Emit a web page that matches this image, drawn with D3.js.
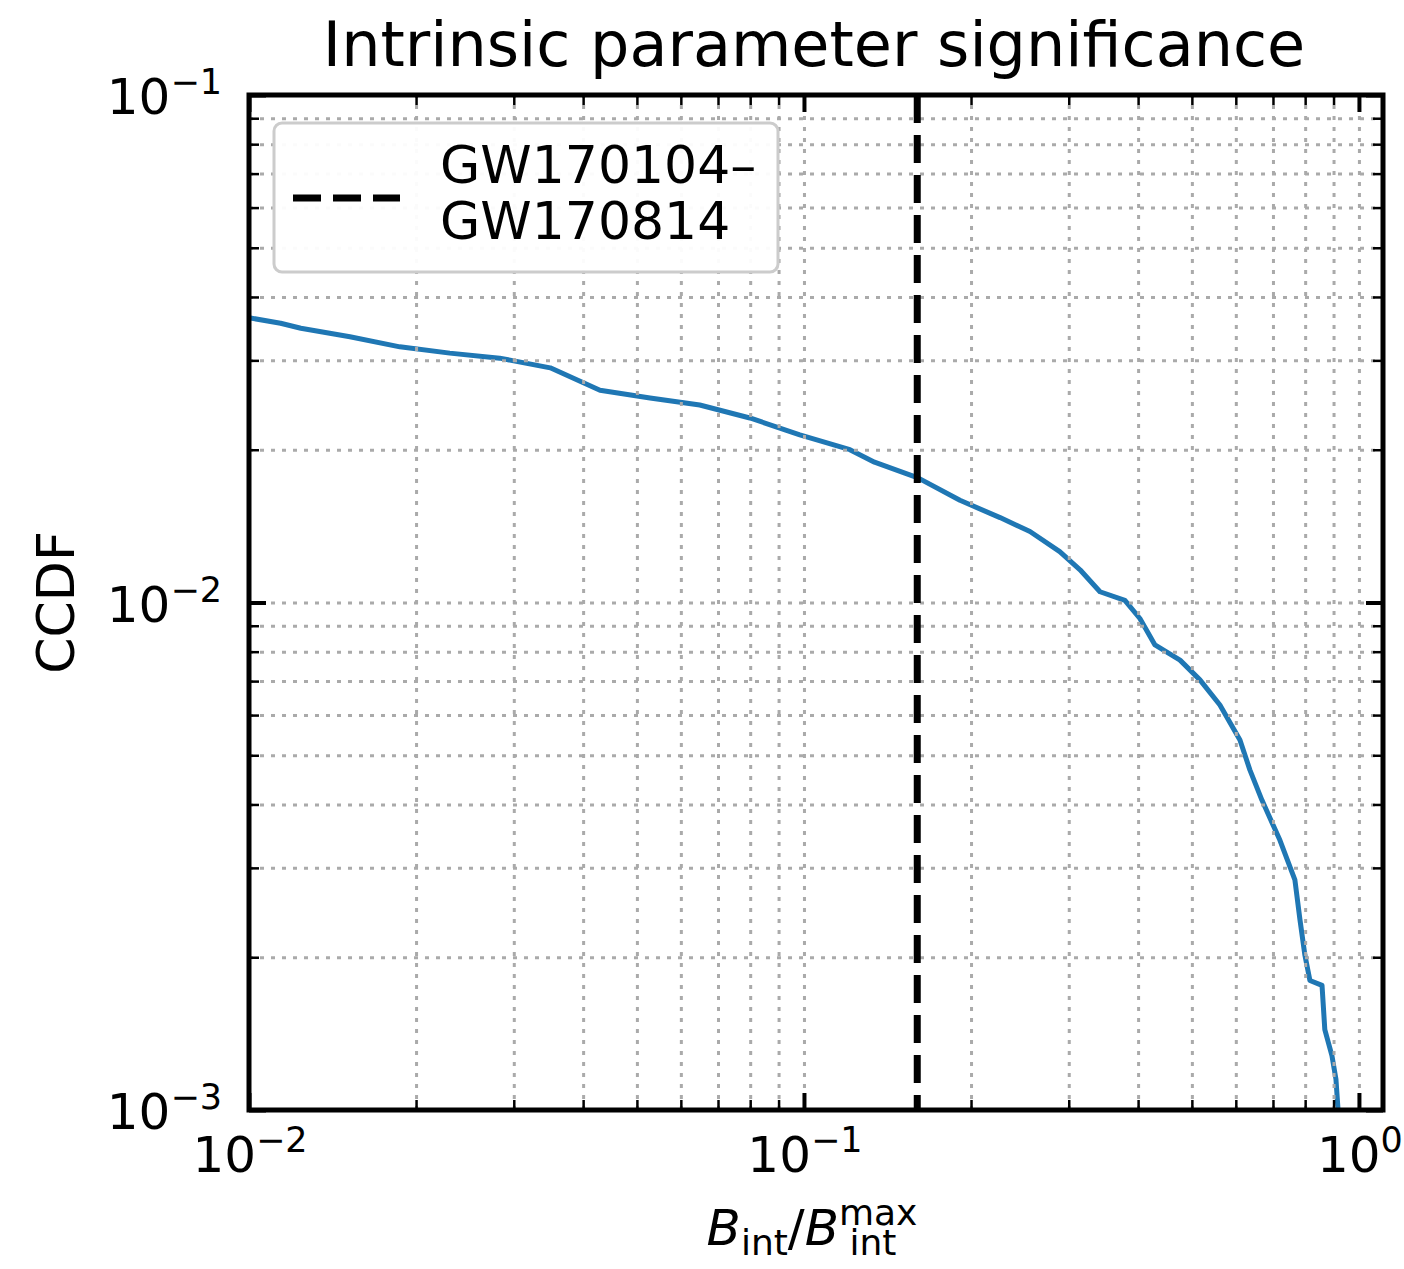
<!DOCTYPE html>
<html>
<head>
<meta charset="utf-8">
<script src="https://cdn.jsdelivr.net/npm/d3@7"></script>
<style>
  html, body { margin: 0; padding: 0; background: #fff; overflow: hidden; }
  svg { display: block; }
  text { font-family: "DejaVu Sans", sans-serif; fill: #000; }
</style>
</head>
<body>
<div id="chart"></div>
<script>
"use strict";

// CCDF of B_int / B_int^max
var ccdfX = [0.0100, 0.0114, 0.0124, 0.0152, 0.0187, 0.0230, 0.0283, 0.0349, 0.0429, 0.0528,
             0.0649, 0.0799, 0.0983, 0.121, 0.134, 0.1605, 0.191, 0.2256, 0.2554, 0.289,
             0.3144, 0.3415, 0.3787, 0.403, 0.429, 0.476, 0.517, 0.5617, 0.6104, 0.636,
             0.6686, 0.7206, 0.7667, 0.783, 0.7991, 0.816, 0.858, 0.868, 0.894, 0.909, 0.917];
var ccdfY = [0.0364, 0.0355, 0.0347, 0.0334, 0.0319, 0.0310, 0.0303, 0.0290, 0.0262, 0.0253,
             0.0245, 0.0231, 0.0214, 0.0200, 0.0189, 0.0176, 0.0159, 0.0147, 0.0138, 0.0126,
             0.0116, 0.0105, 0.0101, 0.0093, 0.00825, 0.0077, 0.00704, 0.00628, 0.00536, 0.00468,
             0.00408, 0.0034, 0.00284, 0.00237, 0.00202, 0.0018, 0.00176, 0.00144, 0.00128, 0.00115, 0.0010];

var eventX = 0.16;                       // GW170104-GW170814 pair
var legendLines = ['GW170104\u2013', 'GW170814'];

var xDomain = [0.01, 1.105];
var yDomain = [0.001, 0.1];
var xMajor = [0.01, 0.1, 1], xMajorExp = ['\u22122', '\u22121', '0'];
var yMajor = [0.1, 0.01, 0.001], yMajorExp = ['\u22121', '\u22122', '\u22123'];

var outerWidth = 1404, outerHeight = 1269;
var margin = { left: 249, top: 95, right: 21, bottom: 159 };
var innerWidth  = outerWidth  - margin.left - margin.right;
var innerHeight = outerHeight - margin.top  - margin.bottom;

var x = d3.scaleLog().domain(xDomain).range([0, innerWidth]);
var y = d3.scaleLog().domain(yDomain).range([innerHeight, 0]);

var svg = d3.select('#chart').append('svg')
  .attr('width', outerWidth)
  .attr('height', outerHeight);

var g = svg.append('g')
  .attr('transform', 'translate(' + margin.left + ',' + margin.top + ')');

function isMajor (v) { return Math.abs(Math.log10(v) - Math.round(Math.log10(v))) < 1e-6; }

// the curve
var line = d3.line()
  .x(function (d) { return x(d[0]); })
  .y(function (d) { return y(d[1]); });
g.append('path')
  .datum(d3.zip(ccdfX, ccdfY))
  .attr('d', line)
  .attr('fill', 'none')
  .attr('stroke', '#1f77b4')
  .attr('stroke-width', 5)
  .attr('stroke-linejoin', 'round');

// dotted grid on majors and minors
g.append('g')
  .attr('class', 'xGrid')
  .attr('transform', 'translate(0,' + innerHeight + ')')
  .call(d3.axisBottom(x).tickSize(-innerHeight).tickFormat(''));
g.append('g')
  .attr('class', 'yGrid')
  .call(d3.axisLeft(y).tickSize(-innerWidth).tickFormat(''));
g.selectAll('.xGrid .domain, .yGrid .domain, .xGrid text, .yGrid text').remove();
g.selectAll('.xGrid line, .yGrid line')
  .attr('stroke', '#aaaaaa').attr('stroke-width', 3).attr('stroke-dasharray', '4,7');

// vertical dashed line for the event
g.append('line')
  .attr('x1', x(eventX)).attr('x2', x(eventX))
  .attr('y1', 0).attr('y2', innerHeight)
  .attr('stroke', '#000').attr('stroke-width', 7).attr('stroke-dasharray', '28,12');

// inward ticks on all four sides
function ticks (axisFn, scale, transform) {
  var a = g.append('g').attr('transform', transform || null)
    .call(axisFn(scale).tickFormat('').tickSizeOuter(0).tickSizeInner(-10));
  a.select('.domain').remove();
  a.selectAll('text').remove();
  a.selectAll('.tick line')
    .attr('stroke', '#000')
    .attr('stroke-width', function (d) { return isMajor(d) ? 4 : 2.5; })
    .each(function (d) {
      if (isMajor(d)) {
        var l = d3.select(this);
        if (l.attr('x2') !== null && +l.attr('x2') !== 0) l.attr('x2', +l.attr('x2') > 0 ? 17 : -17);
        if (l.attr('y2') !== null && +l.attr('y2') !== 0) l.attr('y2', +l.attr('y2') > 0 ? 17 : -17);
      }
    });
}
ticks(d3.axisBottom, x, 'translate(0,' + innerHeight + ')');
ticks(d3.axisTop, x);
ticks(d3.axisLeft, y);
ticks(d3.axisRight, y, 'translate(' + innerWidth + ',0)');

// frame
g.append('rect')
  .attr('width', innerWidth).attr('height', innerHeight)
  .attr('fill', 'none').attr('stroke', '#000').attr('stroke-width', 5);

// tick labels 10^n
function powerLabel (sel, exp) {
  sel.append('tspan').style('font-size', '50px').text('10');
  sel.append('tspan').style('font-size', '35px').attr('dy', -20).text(exp);
}
xMajor.forEach(function (v, i) {
  g.append('text')
    .attr('x', x(v) + 1).attr('y', innerHeight + 62)
    .attr('text-anchor', 'middle')
    .call(powerLabel, xMajorExp[i]);
});
yMajor.forEach(function (v, i) {
  g.append('text')
    .attr('x', -27).attr('y', y(v) + 19)
    .attr('text-anchor', 'end')
    .call(powerLabel, yMajorExp[i]);
});

// legend
var legend = g.append('g').attr('transform', 'translate(' + (274 - margin.left) + ',' + (123 - margin.top) + ')');
legend.append('rect')
  .attr('width', 504).attr('height', 149).attr('rx', 8)
  .attr('fill', '#fff').attr('fill-opacity', 0.95)
  .attr('stroke', '#cccccc').attr('stroke-width', 3);
legend.append('line')
  .attr('x1', 19).attr('x2', 126).attr('y1', 75).attr('y2', 75)
  .attr('stroke', '#000').attr('stroke-width', 7).attr('stroke-dasharray', '28,12');
legend.selectAll('text.leg')
  .data(legendLines)
  .enter()
  .append('text')
  .attr('class', 'leg')
  .attr('x', 166)
  .attr('y', function (d, i) { return 60 + i * 56; })
  .style('font-size', '52px')
  .text(function (d) { return d; });

// title
svg.append('text')
  .attr('x', 814).attr('y', 66)
  .attr('text-anchor', 'middle')
  .style('font-size', '62px')
  .text('Intrinsic parameter significance');

// y axis title
svg.append('text')
  .attr('transform', 'translate(74,' + (margin.top + innerHeight / 2) + ') rotate(-90)')
  .attr('text-anchor', 'middle')
  .style('font-size', '52px')
  .text('CCDF');

// x axis title: B_int / B_int^max
var xt = svg.append('text')
  .attr('x', 812).attr('y', 1245)
  .attr('text-anchor', 'middle');
xt.append('tspan').style('font-size', '50px').style('font-style', 'italic').text('B');
xt.append('tspan').style('font-size', '36px').attr('dy', 10).text('int');
xt.append('tspan').style('font-size', '50px').attr('dy', -10).text('/');
xt.append('tspan').style('font-size', '50px').style('font-style', 'italic').text('B');
xt.append('tspan').style('font-size', '36px').attr('dy', -20).text('max');
xt.append('tspan').style('font-size', '36px').attr('dx', -68).attr('dy', 30).text('int');
</script>
</body>
</html>
